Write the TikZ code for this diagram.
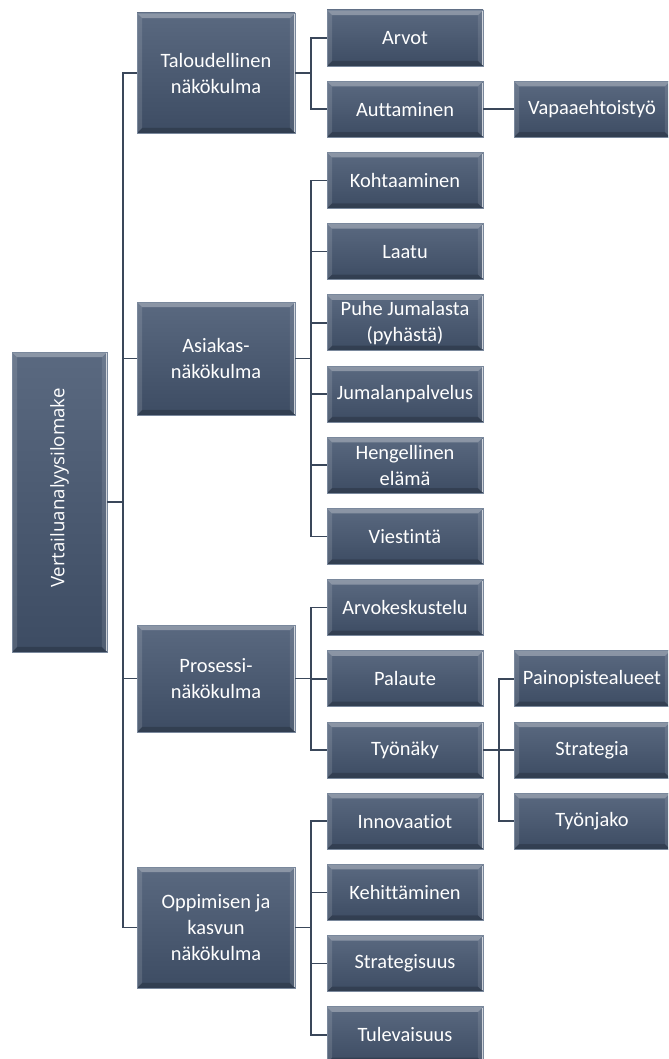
\documentclass[tikz,border=0pt]{standalone}
\usepackage{fontspec}
\setmainfont{Carlito}[Ligatures=NoCommon]
\newfontfamily\rootfont{Open Sans}

\definecolor{boxtop}{HTML}{5A6980}
\definecolor{boxbot}{HTML}{3D4C63}
\definecolor{boxedge}{HTML}{7A889C}
\definecolor{linkc}{HTML}{3A475A}

\newcommand\bevdepth{3.8pt}

\tikzset{
  px/.style={x=0.75pt,y=-0.75pt},
  tile/.style 2 args={
    rectangle, inner sep=0pt,
    minimum width=#1*0.75pt, minimum height=#2*0.75pt,
    top color=boxtop, bottom color=boxbot,
    draw=boxedge, line width=0.5pt,
    text=white, align=center,
    font=\fontsize{15.3}{19.5}\selectfont,
    path picture={
      \coordinate (nw) at (path picture bounding box.north west);
      \coordinate (ne) at (path picture bounding box.north east);
      \coordinate (sw) at (path picture bounding box.south west);
      \coordinate (se) at (path picture bounding box.south east);
      % bevelled rim: light top and left, bright right edge, shaded bottom
      \fill[white,opacity=.30] (nw) -- (ne) -- ([shift={(-\bevdepth,-\bevdepth)}]ne)
            -- ([shift={(\bevdepth,-\bevdepth)}]nw) -- cycle;
      \fill[white,opacity=.12] (nw) -- ([shift={(\bevdepth,-\bevdepth)}]nw)
            -- ([shift={(\bevdepth,\bevdepth)}]sw) -- (sw) -- cycle;
      \fill[white,opacity=.10] (ne) -- (se) -- ([shift={(-\bevdepth,\bevdepth)}]se)
            -- ([shift={(-\bevdepth,-\bevdepth)}]ne) -- cycle;
      \fill[black,opacity=.18] (sw) -- (se) -- ([shift={(-\bevdepth,\bevdepth)}]se)
            -- ([shift={(\bevdepth,\bevdepth)}]sw) -- cycle;
      \draw[white,opacity=.7,line width=0.8pt]
            ([shift={(-0.6pt,-1pt)}]ne) -- ([shift={(-0.6pt,1pt)}]se);
    }},
  lvlA/.style={tile={158}{#1}},
  lvlB/.style={tile={156}{56}},
  link/.style={draw=linkc, line width=1.3pt},
}

\begin{document}
\begin{tikzpicture}[px]
\useasboundingbox (0,0) rectangle (668,1059);
\begin{scope}
\clip (0,0) rectangle (668,1059);

% root
\node[tile={95}{300}] (root) at (59.5,502)
  {\rotatebox{90}{\rootfont\fontsize{14}{16}\selectfont\hspace*{21pt}Vertailuanalyysilomake}};

% first level
\node[lvlA=120] (talous) at (216,73)    {Taloudellinen\\näkökulma};
\node[lvlA=113] (asiakas) at (216,358.5) {Asiakas-\\näkökulma};
\node[lvlA=107] (prosessi) at (216,678.5) {Prosessi-\\näkökulma};
\node[lvlA=121] (oppiminen) at (216,927.5) {Oppimisen ja\\kasvun\\näkökulma};

% second level
\node[lvlB] (arvot)       at (405,38)     {Arvot};
\node[lvlB] (auttaminen)  at (405,109.2)  {Auttaminen};
\node[lvlB] (kohtaaminen) at (405,180.4)  {Kohtaaminen};
\node[lvlB] (laatu)       at (405,251.6)  {Laatu};
\node[lvlB] (puhe)        at (405,322.8)  {Puhe Jumalasta\\(pyhästä)};
\node[lvlB] (jumalanp)    at (405,394)    {Jumalanpalvelus};
\node[lvlB] (hengell)     at (405,465.2)  {Hengellinen\\elämä};
\node[lvlB] (viestinta)   at (405,536.4)  {Viestintä};
\node[lvlB] (arvokesk)    at (405,607.6)  {Arvokeskustelu};
\node[lvlB] (palaute)     at (405,678.8)  {Palaute};
\node[lvlB] (tyonaky)     at (405,750)    {Työnäky};
\node[lvlB] (innovaatiot) at (405,821.2)  {Innovaatiot};
\node[lvlB] (kehitt)      at (405,892.4)  {Kehittäminen};
\node[lvlB] (strategis)   at (405,963.6)  {Strategisuus};
\node[lvlB] (tulevaisuus) at (405,1034.8) {Tulevaisuus};

% third level
\node[lvlB] (vapaa)      at (592,109.2) {Vapaaehtoistyö};
\node[lvlB] (painop)     at (592,678.8) {Painopistealueet};
\node[lvlB] (strategia)  at (592,750)   {Strategia};
\node[lvlB] (tyonjako)   at (592,821.2) {Työnjako};

% connectors
\foreach \c in {talous,asiakas,prosessi,oppiminen}
  \draw[link] (root.east) -- ++(16,0) |- (\c.west);
\foreach \c in {arvot,auttaminen}
  \draw[link] (talous.east) -- ++(16,0) |- (\c.west);
\foreach \c in {kohtaaminen,laatu,puhe,jumalanp,hengell,viestinta}
  \draw[link] (asiakas.east) -- ++(16,0) |- (\c.west);
\foreach \c in {arvokesk,palaute,tyonaky}
  \draw[link] (prosessi.east) -- ++(16,0) |- (\c.west);
\foreach \c in {innovaatiot,kehitt,strategis,tulevaisuus}
  \draw[link] (oppiminen.east) -- ++(16,0) |- (\c.west);
\draw[link] (auttaminen.east) -- (vapaa.west);
\foreach \c in {painop,strategia,tyonjako}
  \draw[link] (tyonaky.east) -- ++(16,0) |- (\c.west);
\end{scope}
\end{tikzpicture}
\end{document}
